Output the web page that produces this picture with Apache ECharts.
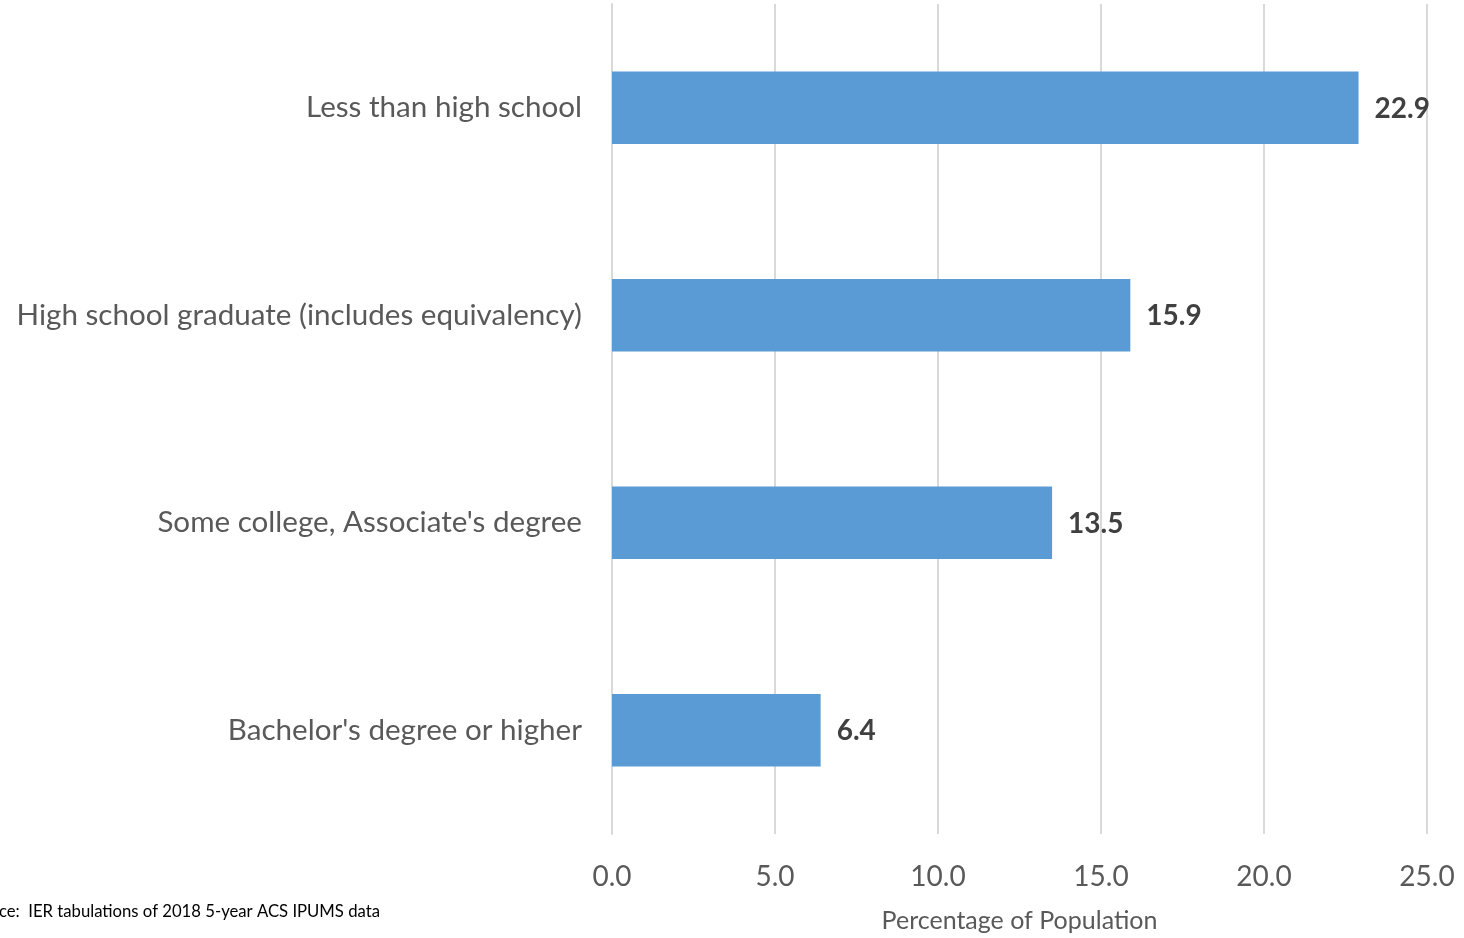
<!DOCTYPE html>
<html><head><meta charset="utf-8">
<script src="https://cdn.jsdelivr.net/npm/echarts@6/dist/echarts.min.js"></script>
<style>html,body{margin:0;padding:0;background:#fff}#c{width:1464px;height:938px}</style>
</head><body><div id="c"></div>
<script>
var categories = ["Bachelor's degree or higher", "Some college, Associate's degree", "High school graduate (includes equivalency)", "Less than high school"];
var values = [6.4, 13.5, 15.9, 22.9];
var axisTitle = "Percentage of Population";
var sourceNote = "Source:  IER tabulations of 2018 5-year ACS IPUMS data";

var chart = echarts.init(document.getElementById('c'));
chart.setOption({
  animation: false,
  grid: {left: 612, right: 37, top: 4, bottom: 103},
  xAxis: {
    type: 'value', min: 0, max: 25, interval: 5,
    axisLine: {show: false}, axisTick: {show: false},
    splitLine: {lineStyle: {color: '#d9d9d9', width: 2}},
    axisLabel: {formatter: function(v){return v.toFixed(1);}, color: '#595959', fontSize: 28, fontFamily: 'Lato', margin: 29},
    name: axisTitle, nameLocation: 'middle', nameGap: 74,
    nameTextStyle: {color: '#595959', fontSize: 25, fontFamily: 'Lato'}
  },
  yAxis: {
    type: 'category', data: categories,
    axisLine: {show: true, lineStyle: {color: '#d9d9d9', width: 2}},
    axisTick: {show: false},
    axisLabel: {color: '#595959', fontSize: 29.6, fontFamily: 'Lato', margin: 30}
  },
  series: [{
    type: 'bar', data: values, barWidth: '35%',
    itemStyle: {color: '#5B9BD5'},
    label: {show: true, position: 'right', distance: 16, offset: [0, 1], formatter: function(p){return p.value.toFixed(1);},
      color: '#404040', fontSize: 28, fontWeight: 'bold', fontFamily: 'Lato'}
  }],
  graphic: [{
    type: 'text', right: 1464 - 380, top: 903,
    style: {text: sourceNote, fill: '#000', fontSize: 16.7, fontFamily: 'Lato'}
  }]
});
</script></body></html>
